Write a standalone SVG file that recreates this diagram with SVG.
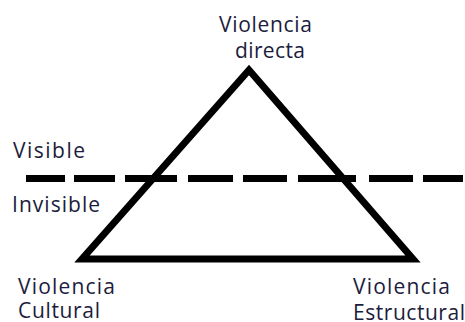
<svg xmlns="http://www.w3.org/2000/svg" width="465" height="322" viewBox="0 0 465 322">
<style>
.t{font-family:"Open Sans","Liberation Sans",sans-serif;font-size:21px;fill:#1c1c3c}
.s{fill:none;stroke:#000;stroke-width:7;stroke-linejoin:miter}
.d{stroke:#000;stroke-width:7}
</style>
<rect width="465" height="322" fill="#fff"/>
<g id="triangle"><polygon class="s" points="249,70 82,259 413,259"/></g>
<g id="connectors">
<line class="d" x1="26" y1="178.5" x2="65" y2="178.5"/>
<line class="d" x1="74" y1="178.5" x2="115" y2="178.5"/>
<line class="d" x1="125" y1="178.5" x2="177" y2="178.5"/>
<line class="d" x1="188" y1="178.5" x2="233" y2="178.5"/>
<line class="d" x1="243" y1="178.5" x2="287" y2="178.5"/>
<line class="d" x1="298" y1="178.5" x2="356" y2="178.5"/>
<line class="d" x1="369" y1="178.5" x2="413" y2="178.5"/>
<line class="d" x1="423" y1="178.5" x2="463" y2="178.5"/>
</g>
<g id="directa"><text class="t" x="219" y="32" textLength="93">Violencia</text><text class="t" x="235" y="58" textLength="70">directa</text></g>
<g id="visible"><text class="t" x="13" y="158" textLength="72">Visible</text></g>
<g id="invisible"><text class="t" x="12" y="212" textLength="88">Invisible</text></g>
<g id="cultural"><text class="t" x="18" y="294" textLength="97">Violencia</text><text class="t" x="18" y="318" textLength="82">Cultural</text></g>
<g id="estructural"><text class="t" x="353" y="294" textLength="97">Violencia</text><text class="t" x="353" y="320" textLength="112">Estructural</text></g>
</svg>
